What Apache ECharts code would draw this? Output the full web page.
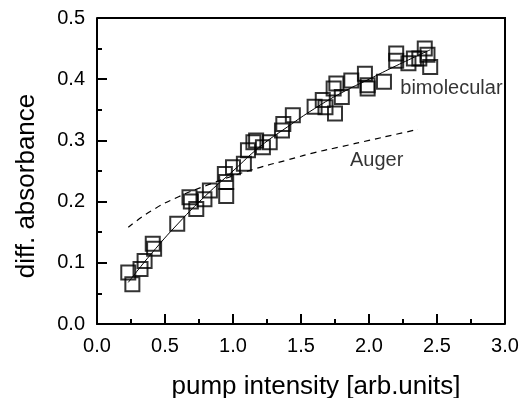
<!DOCTYPE html>
<html>
<head>
<meta charset="utf-8">
<script src="https://cdn.jsdelivr.net/npm/echarts@6/dist/echarts.min.js"></script>
<style>
  html, body { margin: 0; padding: 0; background: #fff; }
  #chart { width: 530px; height: 398px; }
</style>
</head>
<body>
<div id="chart"></div>
<script>
// measured points (pump intensity, diff. absorbance)
var pumpX = [0.23, 0.26, 0.32, 0.35, 0.41, 0.42, 0.59, 0.68, 0.69, 0.73, 0.79, 0.83,
  0.95, 0.94, 0.95, 1.0, 1.08, 1.11, 1.15, 1.17, 1.22, 1.27, 1.36, 1.37, 1.44,
  1.6, 1.66, 1.68, 1.75, 1.74, 1.76, 1.8, 1.87, 1.97, 1.99, 1.99, 2.11,
  2.2, 2.2, 2.29, 2.33, 2.37, 2.41, 2.43, 2.45];
var absorb = [0.084, 0.065, 0.09, 0.103, 0.131, 0.123, 0.164, 0.207, 0.2, 0.188, 0.204, 0.218,
  0.209, 0.245, 0.232, 0.256, 0.262, 0.284, 0.297, 0.3, 0.289, 0.297, 0.316, 0.327, 0.341,
  0.355, 0.366, 0.354, 0.344, 0.385, 0.393, 0.371, 0.398, 0.409, 0.385, 0.39, 0.396,
  0.442, 0.43, 0.426, 0.434, 0.434, 0.45, 0.44, 0.42];

// bimolecular fit curve
var bimolX = [0.23, 0.4, 0.6, 0.8, 1.0, 1.2, 1.4, 1.6, 1.8, 2.0, 2.2, 2.45];
var bimolY = [0.068, 0.115, 0.165, 0.21, 0.25, 0.29, 0.322, 0.352, 0.378, 0.4, 0.422, 0.448];

// Auger fit curve
var augerX = [0.23, 0.4, 0.6, 0.8, 1.0, 1.2, 1.4, 1.6, 1.8, 2.0, 2.2, 2.36];
var augerY = [0.158, 0.185, 0.208, 0.226, 0.242, 0.256, 0.268, 0.28, 0.29, 0.3, 0.31, 0.318];

var xTicks = [0.0, 0.5, 1.0, 1.5, 2.0, 2.5, 3.0];
var yTicks = [0.0, 0.1, 0.2, 0.3, 0.4, 0.5];

function pairs(xs, ys) {
  return xs.map(function (x, i) { return [x, ys[i]]; });
}

var font = 'Liberation Sans, Arial, sans-serif';

var option = {
  animation: false,
  grid: { left: 97, right: 25, top: 18, bottom: 74, show: false, outerBoundsMode: 'none', containLabel: false },
  xAxis: {
    type: 'value',
    min: xTicks[0], max: xTicks[xTicks.length - 1], interval: 0.5,
    name: 'pump intensity [arb.units]',
    nameLocation: 'middle', nameGap: 50,
    nameTextStyle: { fontFamily: font, fontSize: 26, color: '#000', padding: [0, 0, 0, 30] },
    axisLine: { show: true, onZero: false, lineStyle: { color: '#000', width: 2 } },
    axisTick: { show: true, inside: true, length: 10, lineStyle: { color: '#000', width: 2 } },
    minorTick: { show: true, splitNumber: 2, length: 5, lineStyle: { color: '#000', width: 2 } },
    axisLabel: { fontFamily: font, fontSize: 20, color: '#000', margin: 12,
      formatter: function (v) { return v.toFixed(1); } },
    splitLine: { show: false }
  },
  yAxis: {
    type: 'value',
    min: yTicks[0], max: yTicks[yTicks.length - 1], interval: 0.1,
    name: 'diff. absorbance',
    nameLocation: 'middle', nameGap: 57,
    nameTextStyle: { fontFamily: font, fontSize: 26, color: '#000', padding: [0, 30, 0, 0] },
    axisLine: { show: true, onZero: false, lineStyle: { color: '#000', width: 2 } },
    axisTick: { show: true, inside: true, length: 10, lineStyle: { color: '#000', width: 2 } },
    minorTick: { show: true, splitNumber: 2, length: 5, lineStyle: { color: '#000', width: 2 } },
    axisLabel: { fontFamily: font, fontSize: 20, color: '#000', margin: 12,
      formatter: function (v) { return v.toFixed(1); } },
    splitLine: { show: false }
  },
  series: [
    {
      type: 'line',
      data: pairs(bimolX, bimolY),
      smooth: true, showSymbol: false, symbol: 'none',
      lineStyle: { color: '#000', width: 1 },
      z: 3
    },
    {
      type: 'line',
      data: pairs(augerX, augerY),
      smooth: true, showSymbol: false, symbol: 'none',
      lineStyle: { color: '#000', width: 1.2, type: [6, 5] },
      z: 3
    },
    {
      type: 'scatter',
      data: pairs(pumpX, absorb),
      symbol: 'rect', symbolSize: 14,
      itemStyle: { color: 'rgba(0,0,0,0)', borderColor: '#000', borderWidth: 2 },
      z: 4
    },
    {
      type: 'scatter',
      data: [[2.23, 0.385], [1.86, 0.267]],
      symbolSize: 0,
      label: {
        show: true, position: 'right', distance: 0,
        fontFamily: font, fontSize: 20, color: '#000',
        formatter: function (p) { return p.dataIndex === 0 ? 'bimolecular' : 'Auger'; }
      },
      z: 5
    }
  ]
};

var chart = echarts.init(document.getElementById('chart'));
chart.setOption(option);

// frame: top and right border lines of the plot box
var rect = chart.getModel().getComponent('grid').coordinateSystem.getRect();
chart.setOption({
  graphic: [{
    type: 'polyline',
    shape: { points: [[rect.x, rect.y], [rect.x + rect.width, rect.y], [rect.x + rect.width, rect.y + rect.height]] },
    style: { stroke: '#000', lineWidth: 2, fill: null },
    z: 10
  }]
});
</script>
</body>
</html>
